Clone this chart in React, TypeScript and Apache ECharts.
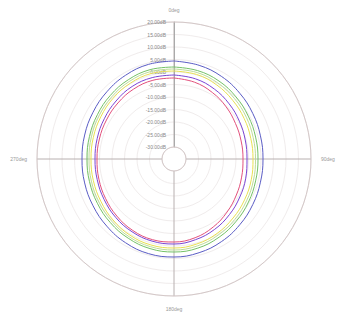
import React, { useEffect, useRef } from "react";
import * as echarts from "echarts";

const angles = [0, 15, 30, 45, 60, 75, 90, 105, 120, 135, 150, 165, 180, 195, 210, 225, 240, 255, 270, 285, 300, 315, 330, 345, 360];
const seriesNames = ["S1", "S2", "S3", "S4", "S5", "S6"];
const seriesColors = ["#5a5cc4", "#74c266", "#bcdc98", "#e8e052", "#7a45d4", "#e2507c"];
const s1 = [4.4, 4.0, 3.3, 2.4, 1.6, 1.0, 0.8, 1.0, 1.6, 2.4, 3.3, 4.0, 4.4, 4.4, 3.9, 3.2, 2.6, 2.2, 2.0, 2.2, 2.6, 3.2, 3.9, 4.4, 4.4];
const s2 = [2.0, 1.8, 1.2, 0.3, -0.5, -1.0, -1.2, -1.0, -0.4, 0.4, 1.3, 2.1, 2.4, 2.3, 1.8, 1.2, 0.6, 0.2, 0.0, 0.2, 0.6, 1.2, 1.8, 2.2, 2.0];
const s3 = [1.2, 1.0, 0.3, -0.6, -1.4, -2.0, -2.2, -1.9, -1.3, -0.5, 0.4, 1.2, 1.6, 1.5, 1.1, 0.4, -0.2, -0.6, -0.8, -0.6, -0.2, 0.4, 1.0, 1.4, 1.2];
const s4 = [0.4, 0.2, -0.6, -1.6, -2.4, -3.0, -3.2, -2.8, -2.2, -1.4, -0.4, 0.4, 0.8, 0.8, 0.4, -0.3, -1.0, -1.4, -1.6, -1.4, -1.0, -0.4, 0.2, 0.6, 0.4];
const s5 = [-1.2, -1.6, -2.5, -3.6, -4.6, -5.3, -5.6, -5.1, -4.4, -3.4, -2.3, -1.4, -0.8, -0.8, -1.2, -1.8, -2.5, -3.0, -3.2, -3.0, -2.6, -2.0, -1.3, -1.1, -1.2];
const s6 = [-2.4, -3.0, -4.1, -5.3, -6.4, -7.0, -7.2, -6.8, -6.0, -4.8, -3.4, -2.2, -1.6, -1.4, -1.8, -2.5, -3.2, -3.7, -4.0, -3.9, -3.6, -3.1, -2.5, -2.2, -2.4];
const allSeries = [s1, s2, s3, s4, s5, s6];

export default function App() {
  const ref = useRef<HTMLDivElement>(null);
  useEffect(() => {
    if (!ref.current) return;
    const chart = echarts.init(ref.current, undefined, { renderer: "svg" });
    chart.setOption({
      animation: false,
      polar: { center: [174, 159], radius: [12, 137] },
      angleAxis: {
        type: "value",
        min: 0,
        max: 360,
        interval: 90,
        startAngle: 90,
        clockwise: true,
        axisLine: { lineStyle: { color: "#d4c8c8", width: 1 } },
        axisTick: { show: false },
        axisLabel: { formatter: "{value}deg", fontSize: 5, color: "#999", margin: 10 },
        splitLine: { show: true, lineStyle: { color: "#b8b0b0", width: 1 } },
      },
      radiusAxis: {
        type: "value",
        min: -30,
        max: 20,
        interval: 5,
        axisLine: { lineStyle: { color: "#aaa" } },
        axisTick: { show: false },
        axisLabel: {
          formatter: (v: number) => v.toFixed(2) + "dB",
          fontSize: 5,
          color: "#888",
        },
        splitLine: { show: true, lineStyle: { color: "#f0ecec", width: 1 } },
      },
      series: allSeries.map((d, i) => ({
        type: "line",
        name: seriesNames[i],
        coordinateSystem: "polar",
        showSymbol: false,
        smooth: 0.4,
        lineStyle: { width: 1, color: seriesColors[i] },
        data: d.map((v, j) => [v, angles[j]]),
      })),
    });
    return () => chart.dispose();
  }, []);
  return (
    <div
      ref={ref}
      style={{ position: "absolute", left: 0, top: 0, width: 341, height: 320 }}
    />
  );
}
